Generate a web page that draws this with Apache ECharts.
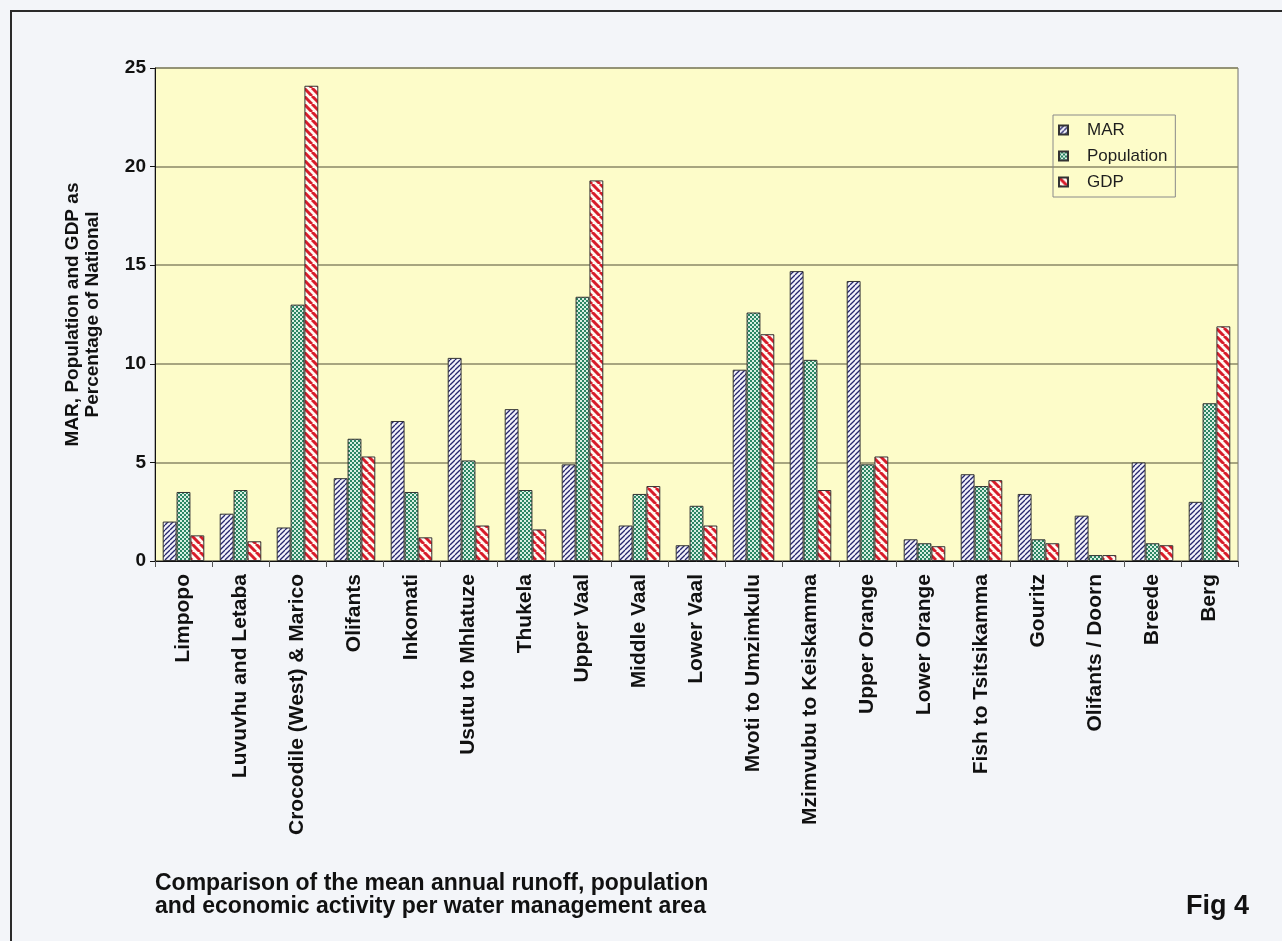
<!DOCTYPE html>
<html>
<head>
<meta charset="utf-8">
<script src="https://cdn.jsdelivr.net/npm/echarts@6/dist/echarts.min.js"></script>
<style>
	html, body { margin: 0; padding: 0; background: #f3f5f9; overflow: hidden; }
	#chart { width: 1282px; height: 941px; }
</style>
</head>
<body>
<div id="chart"></div>
<script>
var categories = ['Limpopo', 'Luvuvhu and Letaba', 'Crocodile (West) & Marico', 'Olifants', 'Inkomati',
	'Usutu to Mhlatuze', 'Thukela', 'Upper Vaal', 'Middle Vaal', 'Lower Vaal', 'Mvoti to Umzimkulu',
	'Mzimvubu to Keiskamma', 'Upper Orange', 'Lower Orange', 'Fish to Tsitsikamma', 'Gouritz',
	'Olifants / Doorn', 'Breede', 'Berg'];
var mar = [2.0, 2.4, 1.7, 4.2, 7.1, 10.3, 7.7, 4.9, 1.8, 0.8, 9.7, 14.7, 14.2, 1.1, 4.4, 3.4, 2.3, 5.0, 3.0];
var population = [3.5, 3.6, 13.0, 6.2, 3.5, 5.1, 3.6, 13.4, 3.4, 2.8, 12.6, 10.2, 4.9, 0.9, 3.8, 1.1, 0.3, 0.9, 8.0];
var gdp = [1.3, 1.0, 24.1, 5.3, 1.2, 1.8, 1.6, 19.3, 3.8, 1.8, 11.5, 3.6, 5.3, 0.75, 4.1, 0.9, 0.3, 0.8, 11.9];
var yTicks = { min: 0, max: 25, interval: 5 };

var font = 'Arial, "Liberation Sans", Helvetica, sans-serif';

// diagonal stripes, dir 1 = "/", -1 = "\"
function stripes(size, bg, fg, width, dir) {
	var c = document.createElement('canvas');
	c.width = size;
	c.height = size;
	var ctx = c.getContext('2d');
	ctx.fillStyle = bg;
	ctx.fillRect(0, 0, size, size);
	ctx.strokeStyle = fg;
	ctx.lineWidth = width;
	for (var k = -size; k <= size; k += size) {
		ctx.beginPath();
		if (dir > 0) {
			ctx.moveTo(k, size);
			ctx.lineTo(k + size, 0);
		} else {
			ctx.moveTo(k, 0);
			ctx.lineTo(k + size, size);
		}
		ctx.stroke();
	}
	return c;
}

function checker(cell, a, b) {
	var c = document.createElement('canvas');
	c.width = cell * 2;
	c.height = cell * 2;
	var ctx = c.getContext('2d');
	ctx.fillStyle = a;
	ctx.fillRect(0, 0, cell * 2, cell * 2);
	ctx.fillStyle = b;
	ctx.fillRect(0, 0, cell, cell);
	ctx.fillRect(cell, cell, cell, cell);
	return c;
}

var marFill = { image: stripes(5, '#f2f2fa', '#27276e', 1.3, 1), repeat: 'repeat' };
var popFill = { image: checker(2, '#2b8563', '#d8eee2'), repeat: 'repeat' };
var gdpFill = { image: stripes(8, '#fff9f2', '#d81c2a', 3, -1), repeat: 'repeat' };

var chart = echarts.init(document.getElementById('chart'));

function barSeries(name, data, fill) {
	return {
		name: name,
		type: 'bar',
		data: data,
		barGap: '0%',
		barCategoryGap: '27%',
		animation: false,
		itemStyle: {
			color: fill,
			borderColor: '#333',
			borderWidth: 1
		}
	};
}

chart.setOption({
	backgroundColor: '#f3f5f9',
	textStyle: { fontFamily: font },
	grid: {
		left: 155,
		right: 44,
		top: 68,
		bottom: 380,
		show: true,
		backgroundColor: '#fdfcc9',
		borderColor: '#6e6e6e',
		borderWidth: 1,
		outerBoundsMode: 'none'
	},
	legend: {
		orient: 'vertical',
		left: 1053,
		top: 115,
		width: 121,
		padding: [6, 8, 6, 5],
		itemGap: 8,
		itemWidth: 9,
		itemHeight: 9,
		icon: 'rect',
		borderColor: '#8a8a8a',
		borderWidth: 1,
		textStyle: {
			fontFamily: font,
			fontSize: 17,
			lineHeight: 18,
			color: '#1e1e1e',
			padding: [0, 0, 0, 14]
		},
		data: ['MAR', 'Population', 'GDP']
	},
	xAxis: {
		type: 'category',
		data: categories,
		axisLine: { lineStyle: { color: '#111', width: 1 } },
		axisTick: { show: true, length: 6, lineStyle: { color: '#555' } },
		axisLabel: {
			interval: 0,
			rotate: 90,
			margin: 13,
			fontFamily: font,
			fontSize: 21,
			fontWeight: 'bold',
			color: '#111'
		}
	},
	yAxis: {
		type: 'value',
		min: yTicks.min,
		max: yTicks.max,
		interval: yTicks.interval,
		name: 'MAR, Population and GDP as\nPercentage of National',
		nameLocation: 'middle',
		nameGap: 52,
		nameRotate: 90,
		nameTextStyle: {
			fontFamily: font,
			fontSize: 19,
			fontWeight: 'bold',
			lineHeight: 20,
			color: '#111'
		},
		axisLine: { show: true, lineStyle: { color: '#111', width: 1 } },
		axisTick: { show: true, length: 5, lineStyle: { color: '#111' } },
		axisLabel: {
			margin: 9,
			fontFamily: font,
			fontSize: 19,
			fontWeight: 'bold',
			color: '#111'
		},
		splitLine: { lineStyle: { color: '#8a8866', width: 1.5 } }
	},
	graphic: [
		{
			type: 'rect',
			shape: { x: 11, y: 11, width: 1300, height: 1000 },
			style: { fill: null, stroke: '#2a2a2a', lineWidth: 2 },
			silent: true
		},
		{
			type: 'text',
			left: 155,
			top: 872,
			style: {
				text: 'Comparison of the mean annual runoff, population\nand economic activity per water management area',
				font: 'bold 23px ' + font,
				lineHeight: 23,
				fill: '#111'
			}
		},
		{
			type: 'text',
			right: 33,
			top: 893,
			style: {
				text: 'Fig 4',
				font: 'bold 27px ' + font,
				fill: '#111'
			}
		}
	],
	series: [
		barSeries('MAR', mar, marFill),
		barSeries('Population', population, popFill),
		barSeries('GDP', gdp, gdpFill)
	]
});
</script>
</body>
</html>
